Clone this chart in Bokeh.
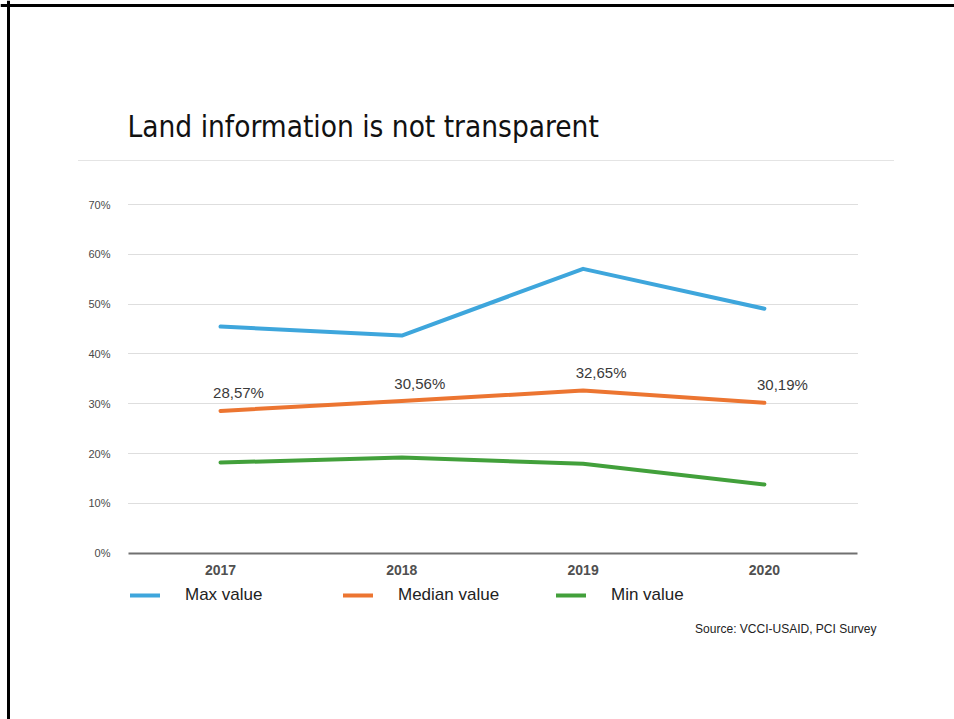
from bokeh.plotting import figure
from bokeh.models import (Range1d, FixedTicker, PrintfTickFormatter, Grid, Span,
                          Legend, LegendItem, Label, ColumnDataSource)
from bokeh.core.properties import value
from bokeh.embed import file_html
from bokeh.resources import INLINE

# ---- data ----
years = [2017, 2018, 2019, 2020]
max_values = [45.5, 43.7, 57.1, 49.1]
median_values = [28.57, 30.56, 32.65, 30.19]
min_values = [18.2, 19.2, 17.95, 13.8]
y_ticks = [0, 10, 20, 30, 40, 50, 60, 70]
series_names = ["Max value", "Median value", "Min value"]
title_text = "Land information is not transparent"
source_text = "Source: VCCI-USAID, PCI Survey"

colors = ["#3ea6dc", "#ec7531", "#42a03b"]

W, H = 954, 719
p = figure(width=W, height=H, output_backend="svg", toolbar_location=None,
           x_range=Range1d(2015.7865, 2021.0485), y_range=Range1d(-33.39, 110.98),
           min_border=0, min_border_left=0, min_border_right=0, min_border_top=0,
           min_border_bottom=0)
p.title.text = ""
p.outline_line_color = None
p.background_fill_color = "white"
p.border_fill_color = "white"
p.xgrid.visible = False
p.ygrid.visible = False

# page frame lines (left and top)
p.add_layout(Span(location=8, location_units="screen", dimension="height",
                  line_color="black", line_width=3))
p.add_layout(Span(location=H - 5, location_units="screen", dimension="width",
                  line_color="black", line_width=3))

grid_lo, grid_hi = 2016.4926, 2020.5135

# x axis drawn at y = 0
xa = p.xaxis[0]
xa.fixed_location = 0
xa.ticker = FixedTicker(ticks=years)
xa.bounds = (grid_lo, grid_hi)
xa.axis_line_color = "#707070"
xa.axis_line_width = 2
xa.major_tick_line_color = None
xa.minor_tick_line_color = None
xa.major_tick_out = 0
xa.minor_tick_out = 0
xa.major_label_standoff = 12
xa.major_label_text_font = "Liberation Sans"
xa.major_label_text_font_size = "14px"
xa.major_label_text_font_style = "bold"
xa.major_label_text_color = "#505050"

# y axis drawn at the start of the grid lines
ya = p.yaxis[0]
ya.fixed_location = grid_lo
ya.ticker = FixedTicker(ticks=y_ticks)
ya.formatter = PrintfTickFormatter(format="%d%%")
ya.axis_line_color = None
ya.major_tick_line_color = None
ya.minor_tick_line_color = None
ya.major_tick_out = 0
ya.major_tick_in = 0
ya.minor_tick_out = 0
ya.major_label_standoff = 18
ya.major_label_text_font = "Liberation Sans"
ya.major_label_text_font_size = "11px"
ya.major_label_text_color = "#4a4a4a"

# grid lines
p.add_layout(Grid(dimension=1, ticker=FixedTicker(ticks=y_ticks[1:]), grid_line_color="#bdbdbd",
                  grid_line_dash="1 1", grid_line_width=1, cross_bounds=(grid_lo, grid_hi)))
# separator under the title
p.add_layout(Grid(dimension=1, ticker=FixedTicker(ticks=[78.86]), grid_line_color="#c8c8c8",
                  grid_line_dash="1 1", grid_line_width=1, cross_bounds=(2016.2168, 2020.7121)))

src = ColumnDataSource(dict(x=years, mx=max_values, md=median_values, mn=min_values,
                            lbl=[f"{v:.2f}".replace(".", ",") + "%" for v in median_values]))

r1 = p.line("x", "mx", source=src, line_color=colors[0], line_width=4, line_cap="round", line_join="round")
r2 = p.line("x", "md", source=src, line_color=colors[1], line_width=4, line_cap="round", line_join="round")
r3 = p.line("x", "mn", source=src, line_color=colors[2], line_width=4, line_cap="round", line_join="round")

p.text("x", "md", text="lbl", source=src, x_offset=18, y_offset=-18, text_align="center",
       text_baseline="middle", text_font=value("Liberation Sans"), text_font_size="15px",
       text_color="#3a3a3a")

# title
p.add_layout(Label(x=127, y=H - 126, x_units="screen", y_units="screen", text=title_text,
                   text_align="left", text_baseline="middle",
                   text_font="DejaVu Sans Condensed", text_font_size="29.5px",
                   text_color="#111111"))

legend = Legend(items=[LegendItem(label=series_names[0], renderers=[r1]),
                       LegendItem(label=series_names[1], renderers=[r2]),
                       LegendItem(label=series_names[2], renderers=[r3])],
                orientation="horizontal", location=(130, H - 605),
                glyph_width=30, glyph_height=20, label_standoff=25, label_width=148,
                spacing=10, padding=0, margin=0, border_line_color=None,
                background_fill_alpha=0, label_text_font="Liberation Sans",
                label_text_font_size="17px", label_text_color="#222222")
p.add_layout(legend)

p.add_layout(Label(x=876, y=H - 628, x_units="screen", y_units="screen", text=source_text,
                   text_align="right", text_baseline="middle", text_font="Liberation Sans",
                   text_font_size="12px", text_color="#222222"))

open("out.html", "w").write(file_html(p, INLINE))
